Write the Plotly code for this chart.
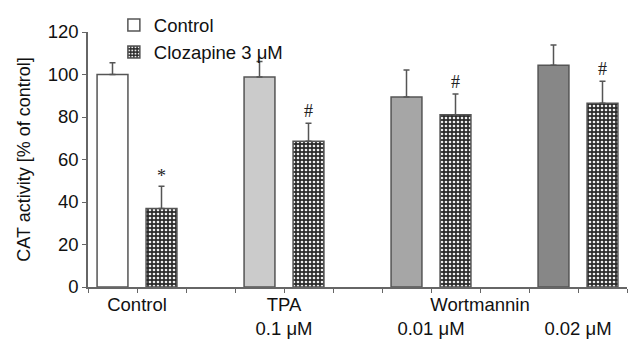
import plotly.graph_objects as go

# Data
positions_ctrl = [0, 3, 6, 9]
positions_cloz = [1, 4, 7, 10]
control_vals = [100, 98.8, 89.4, 104.3]
control_err = [5.5, 7.3, 12.7, 9.6]
cloz_vals = [36.9, 68.6, 81.1, 86.5]
cloz_err = [10.5, 8.5, 9.7, 10.3]
cloz_marks = ["*", "#", "#", "#"]
ctrl_colors = ["#ffffff", "#cbcbcb", "#a6a6a6", "#878787"]
tick_positions = [-0.5, 0.5, 1.5, 2.5, 3.5, 4.5, 5.5, 6.5, 7.5, 8.5, 9.5, 10.5]
tick_labels = ["", "Control", "", "", "TPA<br>0.1 \u03bcM", "", "",
               "\u00a0<br>0.01 \u03bcM", "Wortmannin", "", "\u00a0<br>0.02 \u03bcM", ""]
y_ticks = [0, 20, 40, 60, 80, 100, 120]

FONT = "Arial, Liberation Sans, Helvetica, sans-serif"
LINE = "#555555"

fig = go.Figure()
fig.add_trace(go.Bar(
    x=positions_ctrl, y=control_vals, name="Control", width=0.63,
    marker=dict(color=ctrl_colors, line=dict(color=LINE, width=1.5)),
    error_y=dict(type="data", symmetric=False, array=control_err,
                 arrayminus=[0]*4, color=LINE, thickness=1.5, width=3),
))
fig.add_trace(go.Bar(
    x=positions_cloz, y=cloz_vals, name="Clozapine 3 \u03bcM", width=0.63,
    marker=dict(color="#2a2a2a", line=dict(color=LINE, width=1.5),
                pattern=dict(shape=".", fgcolor="#eeeeee", bgcolor="#2a2a2a",
                             size=4, solidity=0.35, fillmode="replace")),
    error_y=dict(type="data", symmetric=False, array=cloz_err,
                 arrayminus=[0]*4, color=LINE, thickness=1.5, width=3),
))

for xp, v, e, m in zip(positions_cloz, cloz_vals, cloz_err, cloz_marks):
    fig.add_annotation(x=xp, y=v + e, text=m, showarrow=False, yanchor="bottom",
                       yshift=(-2 if m == "*" else 0),
                       font=dict(family="Times New Roman, Liberation Serif, serif",
                                 size=18, color="#222"))

fig.update_layout(
    width=634, height=345,
    margin=dict(l=88, r=7, t=28, b=58),
    paper_bgcolor="white", plot_bgcolor="white",
    font=dict(family=FONT, size=18.5, color="#111"),
    barmode="overlay",
    showlegend=True,
    legend=dict(x=0.048, y=1.10, xanchor="left", yanchor="top",
                bgcolor="rgba(0,0,0,0)", font=dict(size=18.5), tracegroupgap=0,
                itemwidth=30),
    xaxis=dict(range=[-0.5, 10.5], tickmode="array", tickvals=tick_positions,
               ticktext=tick_labels, tickangle=0, automargin=False,
               showgrid=False, zeroline=False,
               showline=True, linecolor="#666", linewidth=1.5,
               ticks="outside", ticklen=4, tickcolor="#666", tickwidth=1,
               ticklabelstandoff=-4,
               tickfont=dict(size=18.5)),
    yaxis=dict(range=[0, 120], tickvals=y_ticks, automargin=False,
               showgrid=False, zeroline=False,
               showline=True, linecolor="#666", linewidth=1.5,
               ticks="outside", ticklen=4, tickcolor="#666", tickwidth=1,
               tickfont=dict(size=18.5),
               title=dict(text="CAT activity [% of control]", font=dict(size=18),
                          standoff=12)),
)

fig.write_html("out.html")
